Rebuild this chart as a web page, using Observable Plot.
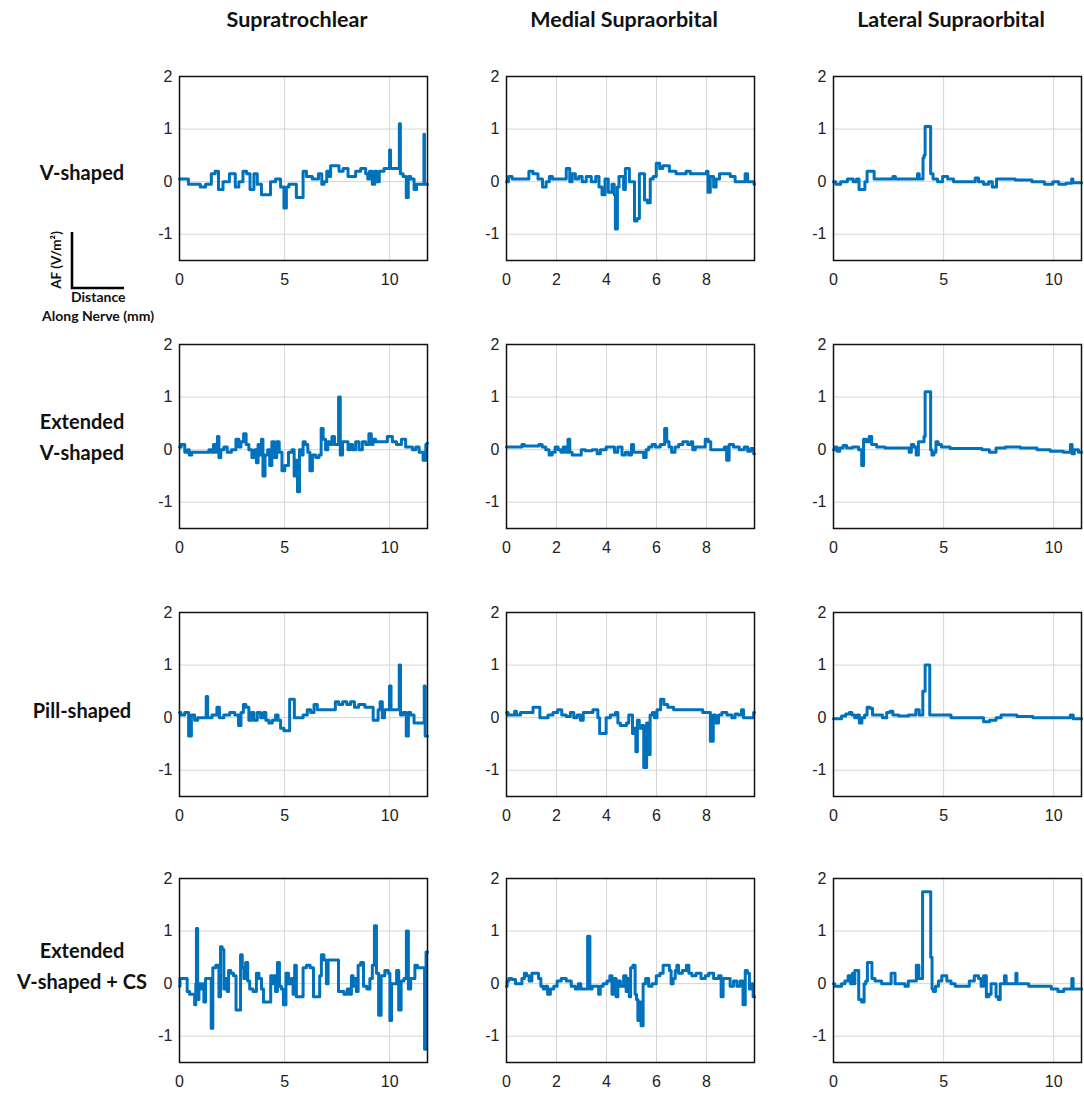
<!DOCTYPE html>
<html>
<head>
<meta charset="utf-8">
<script src="https://cdn.jsdelivr.net/npm/d3@7"></script>
<script src="https://cdn.jsdelivr.net/npm/@observablehq/plot@0.6"></script>
<style>
  html, body { margin: 0; padding: 0; background: #fff; }
  #fig { position: relative; width: 1084px; height: 1118px; background: #fff; overflow: hidden; }
  .hdr { position: absolute; font-family: Lato, "Open Sans", sans-serif; font-weight: 700; font-size: 21.5px; color: #111; text-align: center; white-space: nowrap; }
  .rowlab { position: absolute; font-family: Lato, "Open Sans", sans-serif; font-weight: 700; font-size: 20px; color: #111; text-align: center; white-space: nowrap; line-height: 31px; }
  .small { position: absolute; font-family: Lato, "Open Sans", sans-serif; font-weight: 700; font-size: 14px; color: #111; white-space: nowrap; }
  .panel { position: absolute; }
</style>
</head>
<body>
<div id="fig"></div>
<script>
// ---------- labels ----------
const columnTitles = ["Supratrochlear", "Medial Supraorbital", "Lateral Supraorbital"];
const rowTitles = [["V-shaped"], ["Extended", "V-shaped"], ["Pill-shaped"], ["Extended", "V-shaped + CS"]];
const xMax = [11.8, 9.92, 11.26];
const xTicks = [[0, 5, 10], [0, 2, 4, 6, 8], [0, 5, 10]];
const yDomain = [-1.5, 2];
const yTicks = [-1, 0, 1, 2];

// ---------- data: [distance along nerve (mm), AF (V/m^2)] ----------
const supraVShaped = [[0,0.05],[0.35,0.05],[0.5,-0.05],[0.9,-0.05],[1.08,-0.1],[1.4,-0.05],[1.63,0.15],[1.76,0.2],[1.95,-0.15],[2.19,0.0],[2.56,0.15],[2.75,-0.1],[2.9,0.0],[3.14,0.2],[3.25,0.15],[3.46,-0.15],[3.62,0.15],[3.78,-0.05],[4.02,-0.25],[4.25,-0.25],[4.41,0.0],[4.73,0.05],[4.89,-0.1],[5.05,-0.5],[5.12,-0.1],[5.29,-0.05],[5.52,-0.05],[5.6,-0.3],[5.84,-0.3],[5.92,0.2],[6.16,0.1],[6.48,0.05],[6.75,0.15],[6.79,-0.05],[6.95,0.0],[7.06,0.2],[7.16,0.1],[7.22,0.3],[7.51,0.3],[7.67,0.2],[7.9,0.25],[8.14,0.1],[8.3,0.1],[8.46,0.2],[8.78,0.25],[8.94,0.15],[8.98,0.05],[9.1,0.2],[9.25,-0.05],[9.33,0.2],[9.44,0.0],[9.57,0.2],[9.89,0.25],[9.99,0.25],[10.0,0.6],[10.03,0.6],[10.05,0.25],[10.45,0.25],[10.47,1.1],[10.5,1.1],[10.52,0.15],[10.76,0.1],[10.82,-0.3],[10.85,-0.3],[10.92,0.1],[11.08,0.05],[11.24,-0.15],[11.32,-0.05],[11.62,-0.05],[11.64,0.9],[11.67,-0.05],[11.8,-0.05]];
const medialVShaped = [[0,0.0],[0.16,0.1],[0.29,0.05],[0.83,0.05],[0.96,0.2],[1.16,0.15],[1.36,0.05],[1.52,-0.1],[1.65,0.0],[1.78,0.1],[1.89,0.05],[2.36,0.05],[2.42,0.25],[2.5,0.25],[2.56,0.0],[2.69,0.15],[2.82,0.05],[2.96,0.1],[3.09,0.0],[3.29,0.1],[3.49,0.0],[3.65,0.1],[3.75,-0.1],[3.89,-0.25],[3.99,0.05],[4.15,-0.2],[4.29,-0.05],[4.33,-0.25],[4.38,-0.9],[4.42,-0.9],[4.45,-0.1],[4.55,0.1],[4.66,0.1],[4.71,-0.15],[4.8,0.25],[4.88,0.25],[4.95,0.0],[5.09,0.0],[5.15,-0.75],[5.29,-0.7],[5.34,0.15],[5.49,0.15],[5.55,-0.35],[5.72,-0.4],[5.78,0.05],[5.95,0.1],[6.03,0.35],[6.1,0.35],[6.15,0.25],[6.35,0.3],[6.68,0.2],[6.88,0.15],[7.15,0.15],[7.22,0.2],[7.48,0.15],[7.95,0.15],[8.04,0.2],[8.08,-0.2],[8.22,0.1],[8.35,-0.1],[8.42,0.05],[8.62,0.15],[8.82,0.15],[9.08,0.1],[9.21,0.0],[9.48,0.0],[9.61,0.15],[9.68,0.0],[9.88,0.0],[9.92,-0.05]];
const lateralVShaped = [[0,0.0],[0.21,-0.05],[0.44,0.0],[0.82,0.05],[0.97,0.0],[1.12,0.05],[1.2,-0.15],[1.38,-0.15],[1.47,0.0],[1.58,0.2],[1.81,0.2],[1.88,0.05],[2.64,0.05],[2.75,0.1],[2.87,0.05],[3.78,0.05],[3.85,0.15],[3.93,0.05],[4.05,0.05],[4.08,0.45],[4.14,0.5],[4.18,1.05],[4.39,1.05],[4.43,0.15],[4.61,0.05],[4.84,0.0],[5.07,0.1],[5.3,0.05],[5.6,0.0],[6.36,0.0],[6.51,0.07],[6.66,0.0],[6.97,-0.05],[7.12,0.0],[7.3,-0.1],[7.5,0.05],[7.88,0.05],[8.63,0.03],[9.39,0.0],[9.77,-0.05],[10.15,0.0],[10.3,-0.05],[10.8,-0.03],[10.83,0.05],[10.91,-0.02],[11.26,-0.02]];

const supraExtended = [[0,0.05],[0.17,0.1],[0.33,-0.05],[0.44,0.0],[0.49,-0.1],[0.68,-0.05],[1.32,-0.05],[1.48,0.0],[1.56,-0.05],[1.67,0.1],[1.76,-0.05],[1.85,0.25],[1.9,-0.15],[2.03,0.0],[2.19,0.05],[2.35,-0.05],[2.59,0.0],[2.78,0.2],[2.87,0.05],[2.98,0.15],[3.12,0.3],[3.22,0.1],[3.38,0.0],[3.51,-0.15],[3.62,0.0],[3.7,-0.25],[3.78,0.1],[3.86,-0.1],[3.94,0.2],[4.0,-0.5],[4.14,-0.1],[4.25,0.0],[4.33,-0.3],[4.46,0.15],[4.57,-0.15],[4.68,0.15],[4.81,-0.05],[4.94,-0.4],[5.08,-0.3],[5.29,-0.05],[5.41,0.0],[5.5,-0.5],[5.57,-0.2],[5.66,-0.8],[5.76,0.0],[5.84,-0.1],[5.92,0.15],[6.05,0.1],[6.16,-0.05],[6.25,-0.4],[6.4,-0.1],[6.56,-0.15],[6.71,-0.1],[6.77,0.4],[6.9,0.2],[7.0,0.0],[7.11,0.15],[7.19,0.1],[7.32,0.25],[7.43,0.1],[7.56,0.1],[7.58,1.0],[7.62,1.0],[7.68,-0.1],[7.83,0.15],[7.98,0.15],[8.06,0.0],[8.17,0.1],[8.3,0.0],[8.46,0.15],[8.62,0.0],[8.78,0.15],[8.94,0.1],[9.08,0.3],[9.17,0.1],[9.25,0.2],[9.41,0.15],[9.73,0.15],[10.05,0.25],[10.21,0.15],[10.44,0.1],[10.68,0.2],[10.84,0.05],[11.0,0.05],[11.16,0.0],[11.32,0.05],[11.48,-0.05],[11.7,-0.2],[11.74,0.1],[11.8,0.12]];
const medialExtended = [[0,0.05],[0.56,0.05],[0.67,0.1],[0.76,0.07],[1.23,0.07],[1.36,0.1],[1.49,0.05],[1.65,0.0],[1.76,-0.1],[1.89,-0.05],[2.0,0.05],[2.13,0.0],[2.22,-0.05],[2.32,0.05],[2.42,-0.05],[2.5,0.2],[2.56,-0.05],[2.69,-0.1],[2.96,-0.1],[3.02,0.0],[3.29,-0.02],[3.56,0.0],[3.69,-0.08],[3.82,0.0],[4.15,0.05],[4.29,0.05],[4.35,-0.05],[4.55,0.05],[4.69,-0.1],[4.82,-0.05],[4.95,-0.1],[5.05,0.1],[5.11,-0.05],[5.42,-0.05],[5.55,-0.15],[5.62,0.0],[5.75,0.05],[5.89,0.1],[6.02,0.05],[6.28,0.1],[6.37,0.4],[6.45,0.15],[6.55,0.05],[6.66,-0.05],[6.82,0.05],[6.95,0.1],[7.15,0.15],[7.35,0.1],[7.42,0.15],[7.48,0.0],[7.62,0.05],[7.88,0.05],[8.02,0.2],[8.12,0.15],[8.22,0.0],[8.68,0.0],[8.75,0.05],[8.86,-0.2],[8.95,0.1],[9.21,0.05],[9.41,0.0],[9.61,0.05],[9.68,-0.03],[9.85,0.02],[9.92,-0.08]];
const lateralExtended = [[0,0.0],[0.11,0.05],[0.21,-0.03],[0.36,0.03],[0.52,0.08],[0.67,0.03],[1.05,0.05],[1.23,0.0],[1.33,-0.3],[1.4,0.2],[1.58,0.15],[1.66,0.25],[1.81,0.1],[2.11,0.05],[2.56,0.03],[3.4,0.03],[3.47,-0.05],[3.6,0.1],[3.7,0.05],[3.81,-0.1],[3.9,0.15],[4.08,0.15],[4.14,0.25],[4.18,1.1],[4.39,1.1],[4.43,0.0],[4.51,-0.1],[4.61,-0.05],[4.69,0.15],[4.81,0.1],[4.99,0.05],[5.6,0.02],[6.51,0.02],[6.97,0.0],[7.19,-0.05],[7.57,0.03],[8.03,0.05],[8.94,0.03],[9.54,0.0],[10.15,-0.03],[10.73,-0.05],[10.79,0.1],[10.88,-0.08],[10.99,0.0],[11.26,-0.05]];

const supraPill = [[0,0.1],[0.13,0.05],[0.37,0.1],[0.5,-0.35],[0.63,0.05],[0.81,-0.05],[0.92,0.0],[1.24,0.0],[1.3,0.4],[1.38,0.0],[1.71,0.05],[1.85,0.2],[1.95,0.0],[2.27,0.05],[2.51,0.1],[2.75,0.05],[2.87,-0.15],[2.98,0.1],[3.1,0.25],[3.22,0.2],[3.38,-0.05],[3.46,0.1],[3.62,-0.05],[3.78,0.1],[3.94,0.0],[4.05,0.1],[4.17,-0.05],[4.33,-0.1],[4.49,-0.05],[4.65,0.05],[4.73,-0.05],[4.89,-0.2],[5.05,-0.25],[5.21,-0.25],[5.27,0.35],[5.41,0.35],[5.52,0.0],[5.76,0.0],[6.0,0.05],[6.16,0.15],[6.32,0.1],[6.48,0.25],[6.63,0.15],[7.35,0.15],[7.48,0.3],[7.67,0.25],[7.86,0.3],[8.06,0.25],[8.22,0.3],[8.43,0.2],[8.62,0.25],[9.02,0.2],[9.41,-0.05],[9.49,0.15],[9.6,0.3],[9.7,0.0],[9.81,0.15],[9.97,0.15],[10.01,0.6],[10.05,0.6],[10.08,0.15],[10.44,0.15],[10.47,1.0],[10.5,1.0],[10.53,0.05],[10.76,0.1],[10.82,-0.35],[10.86,-0.35],[10.92,0.1],[11.08,0.05],[11.24,-0.1],[11.63,-0.1],[11.66,0.6],[11.72,-0.35],[11.8,-0.35]];
const medialPill = [[0,0.1],[0.13,0.05],[0.29,0.05],[0.36,0.12],[0.43,0.05],[0.69,0.1],[0.96,0.1],[1.16,0.2],[1.29,0.2],[1.38,0.0],[1.56,0.0],[1.76,0.05],[1.96,0.1],[2.13,0.15],[2.29,0.05],[2.49,0.02],[2.62,0.1],[2.76,0.0],[2.89,0.05],[3.02,-0.05],[3.12,0.1],[3.29,0.1],[3.62,0.15],[3.69,0.0],[3.76,-0.3],[3.95,-0.3],[4.02,0.0],[4.29,0.05],[4.42,0.1],[4.49,-0.1],[4.62,-0.15],[4.75,-0.15],[4.85,-0.1],[4.93,0.05],[5.02,0.05],[5.06,-0.3],[5.15,-0.2],[5.2,-0.65],[5.27,-0.05],[5.35,-0.2],[5.46,-0.15],[5.52,-0.95],[5.58,-0.95],[5.63,-0.1],[5.71,-0.7],[5.78,0.05],[5.89,0.1],[5.95,0.0],[6.09,0.15],[6.24,0.35],[6.35,0.25],[6.55,0.2],[6.82,0.15],[7.35,0.15],[7.75,0.15],[7.95,0.1],[8.08,0.1],[8.23,-0.45],[8.31,0.05],[8.41,-0.1],[8.55,0.05],[8.68,0.1],[8.95,0.05],[9.08,0.0],[9.21,0.07],[9.35,0.05],[9.45,0.15],[9.51,0.0],[9.85,0.0],[9.92,0.1]];
const lateralPill = [[0,-0.02],[0.29,-0.02],[0.44,0.03],[0.67,0.07],[0.77,0.1],[0.9,0.05],[1.02,0.0],[1.12,0.05],[1.23,-0.1],[1.35,0.0],[1.47,0.05],[1.58,0.2],[1.73,0.18],[1.81,0.05],[2.11,0.05],[2.34,0.0],[2.49,0.1],[2.64,0.12],[2.75,0.05],[3.17,0.03],[3.63,0.05],[3.85,0.15],[3.93,0.05],[4.03,0.05],[4.08,0.5],[4.14,0.5],[4.18,1.0],[4.34,1.0],[4.4,0.05],[4.69,0.05],[5.07,0.05],[5.6,0.0],[6.66,0.0],[6.97,-0.08],[7.19,-0.05],[7.57,0.0],[7.65,0.05],[8.18,0.05],[8.48,0.02],[8.94,0.02],[9.17,0.0],[10.15,0.0],[10.68,0.0],[10.83,0.05],[10.94,-0.02],[11.26,-0.02]];

const supraExtendedCS = [[0,-0.05],[0.05,0.1],[0.29,0.1],[0.44,-0.15],[0.52,-0.2],[0.68,-0.2],[0.76,-0.4],[0.79,0.0],[0.82,1.05],[0.85,1.05],[0.88,-0.3],[0.97,0.0],[1.03,-0.1],[1.13,0.0],[1.19,-0.35],[1.29,0.1],[1.48,0.1],[1.54,-0.85],[1.63,0.3],[1.83,0.35],[1.92,-0.25],[1.98,0.7],[2.08,0.65],[2.14,-0.1],[2.24,0.1],[2.3,-0.15],[2.37,0.25],[2.51,0.2],[2.63,0.15],[2.75,-0.5],[2.87,-0.5],[2.94,0.55],[3.03,0.3],[3.1,0.1],[3.19,0.4],[3.3,0.05],[3.38,-0.1],[3.62,-0.15],[3.7,0.2],[3.86,0.1],[3.94,-0.1],[4.05,-0.35],[4.3,-0.35],[4.38,0.15],[4.46,0.0],[4.52,0.15],[4.62,-0.15],[4.7,0.4],[4.81,-0.05],[4.89,-0.1],[5.0,-0.4],[5.13,0.2],[5.25,0.0],[5.37,0.1],[5.44,-0.2],[5.52,0.35],[5.6,-0.25],[5.84,-0.25],[5.92,0.3],[6.16,0.35],[6.27,0.3],[6.48,-0.25],[6.63,-0.25],[6.71,0.15],[6.79,0.55],[6.95,0.45],[7.03,0.0],[7.11,0.45],[7.51,0.45],[7.62,-0.15],[7.75,-0.15],[7.9,-0.2],[8.06,-0.1],[8.14,-0.2],[8.22,0.15],[8.3,-0.05],[8.38,0.1],[8.46,-0.15],[8.54,0.35],[8.7,0.4],[8.81,-0.05],[9.02,-0.1],[9.1,0.1],[9.25,0.35],[9.3,1.1],[9.33,1.1],[9.41,0.2],[9.54,-0.6],[9.65,0.15],[9.89,0.25],[9.97,0.2],[10.05,-0.7],[10.13,0.0],[10.29,0.0],[10.37,0.25],[10.49,-0.5],[10.6,0.05],[10.76,0.1],[10.83,1.0],[10.86,1.0],[10.92,-0.1],[11.08,0.1],[11.16,0.1],[11.24,0.35],[11.4,0.3],[11.63,0.3],[11.69,-1.25],[11.72,-1.25],[11.74,0.6],[11.8,0.6]];
const medialExtendedCS = [[0,-0.05],[0.05,0.05],[0.13,0.1],[0.29,0.08],[0.43,0.0],[0.56,0.0],[0.67,0.1],[0.76,0.2],[0.85,0.15],[0.96,0.05],[1.07,0.2],[1.23,0.2],[1.33,0.1],[1.42,-0.05],[1.52,-0.1],[1.6,-0.05],[1.69,-0.2],[1.82,-0.1],[1.96,-0.05],[2.09,0.05],[2.29,0.1],[2.49,0.05],[2.69,-0.05],[2.82,-0.1],[2.93,0.0],[3.02,-0.1],[3.22,-0.1],[3.27,0.9],[3.31,0.9],[3.36,-0.1],[3.49,-0.05],[3.65,-0.05],[3.72,-0.2],[3.78,-0.05],[3.95,0.0],[4.09,0.05],[4.18,0.15],[4.26,-0.2],[4.35,0.1],[4.42,-0.25],[4.49,0.05],[4.62,-0.05],[4.75,0.15],[4.82,-0.15],[4.89,0.1],[4.93,-0.25],[5.0,0.3],[5.11,0.35],[5.18,-0.2],[5.22,-0.3],[5.29,-0.7],[5.35,-0.35],[5.42,-0.8],[5.51,0.0],[5.62,0.1],[5.75,-0.05],[5.89,0.0],[6.09,0.15],[6.18,0.2],[6.35,0.35],[6.48,0.35],[6.55,0.25],[6.62,0.0],[6.71,0.1],[6.79,0.25],[6.84,0.35],[6.92,0.2],[7.15,0.25],[7.24,0.35],[7.35,0.2],[7.48,0.15],[7.68,0.2],[7.88,0.1],[8.02,0.15],[8.15,0.2],[8.42,0.1],[8.55,0.15],[8.62,-0.25],[8.71,0.1],[8.88,0.1],[9.01,-0.05],[9.15,0.05],[9.28,-0.05],[9.41,0.05],[9.51,-0.4],[9.59,0.25],[9.68,0.2],[9.75,-0.1],[9.81,0.0],[9.92,-0.25]];
const lateralExtendedCS = [[0,0.0],[0.11,-0.05],[0.29,-0.05],[0.44,0.0],[0.59,0.05],[0.74,0.15],[0.82,0.0],[0.9,0.2],[0.94,0.0],[1.0,0.25],[1.09,0.25],[1.2,-0.3],[1.35,-0.35],[1.43,0.0],[1.5,0.05],[1.58,0.4],[1.68,0.4],[1.81,0.1],[1.96,0.05],[2.41,0.0],[2.56,0.0],[2.67,0.2],[2.75,0.2],[2.84,0.0],[3.17,0.0],[3.32,-0.05],[3.47,0.05],[3.7,0.05],[3.82,0.35],[3.93,0.1],[4.03,0.1],[4.06,1.75],[4.39,1.75],[4.44,0.5],[4.51,-0.1],[4.57,-0.15],[4.69,-0.05],[4.84,0.05],[4.99,0.15],[5.07,0.15],[5.22,0.05],[5.45,0.0],[5.6,-0.05],[6.05,-0.05],[6.28,0.05],[6.51,0.15],[6.66,0.1],[6.74,-0.05],[6.89,0.15],[6.99,-0.25],[7.12,-0.2],[7.19,0.0],[7.34,0.0],[7.42,-0.25],[7.54,-0.3],[7.6,0.0],[7.72,0.0],[7.8,0.15],[7.88,0.0],[8.26,0.0],[8.3,0.2],[8.36,0.0],[8.79,0.0],[8.94,-0.05],[9.7,-0.05],[10.08,-0.1],[10.3,-0.15],[10.61,-0.1],[10.79,-0.1],[10.85,0.1],[10.91,-0.1],[11.26,-0.1]];

const series = [
  [supraVShaped, medialVShaped, lateralVShaped],
  [supraExtended, medialExtended, lateralExtended],
  [supraPill, medialPill, lateralPill],
  [supraExtendedCS, medialExtendedCS, lateralExtendedCS]
];

// ---------- layout ----------
const fig = document.getElementById("fig");
const frameLeft = [179, 506, 833];
const frameTop = [76, 344, 612, 878];
const FW = 248, FH = 184;
const ML = 40, MR = 3, MT = 8, MB = 34;

columnTitles.forEach((t, c) => {
  const d = document.createElement("div");
  d.className = "hdr";
  d.textContent = t;
  d.style.left = (frameLeft[c] + FW / 2 - 6 - 150) + "px";
  d.style.width = "300px";
  d.style.top = "6px";
  fig.appendChild(d);
});

const rowCenters = [172, 437, 710, 966];
rowTitles.forEach((lines, r) => {
  const d = document.createElement("div");
  d.className = "rowlab";
  d.innerHTML = lines.join("<br>");
  d.style.left = "0px";
  d.style.width = "164px";
  d.style.top = (rowCenters[r] - lines.length * 31 / 2) + "px";
  fig.appendChild(d);
});

// scale-bar annotation
const sb = document.createElementNS("http://www.w3.org/2000/svg", "svg");
sb.setAttribute("width", 170); sb.setAttribute("height", 110);
sb.style.position = "absolute"; sb.style.left = "0px"; sb.style.top = "222px";
sb.innerHTML = '<path d="M72,10 V66 H124" fill="none" stroke="#000" stroke-width="2.5"/>' +
  '<text transform="translate(61,38) rotate(-90)" text-anchor="middle" font-family="Lato, Open Sans, sans-serif" font-weight="700" font-size="13.5" fill="#111">AF (V/m²)</text>';
fig.appendChild(sb);
const t1 = document.createElement("div");
t1.className = "small"; t1.textContent = "Distance"; t1.style.left = "71px"; t1.style.top = "288px";
fig.appendChild(t1);
const t2 = document.createElement("div");
t2.className = "small"; t2.textContent = "Along Nerve (mm)"; t2.style.left = "42px"; t2.style.top = "307px";
fig.appendChild(t2);

// ---------- panels ----------
for (let r = 0; r < 4; r++) {
  for (let c = 0; c < 3; c++) {
    const p = Plot.plot({
      width: ML + FW + MR,
      height: MT + FH + MB,
      marginLeft: ML, marginRight: MR, marginTop: MT, marginBottom: MB,
      style: { fontFamily: "'Liberation Sans', Arial, sans-serif", fontSize: "16px", color: "#222", background: "transparent", overflow: "visible" },
      x: { domain: [0, xMax[c]], ticks: xTicks[c], tickSize: 0, tickPadding: 13, tickFormat: d => String(d), label: null },
      y: { domain: yDomain, ticks: yTicks, tickSize: 0, tickPadding: 7, tickFormat: d => String(d), label: null },
      marks: [
        Plot.gridX(xTicks[c], { stroke: "#d6d6d6", strokeOpacity: 1, strokeWidth: 1 }),
        Plot.gridY(yTicks, { stroke: "#d6d6d6", strokeOpacity: 1, strokeWidth: 1 }),
        Plot.line(series[r][c], { x: d => d[0], y: d => d[1], curve: "step", stroke: "#0072BD", strokeWidth: 3 }),
        Plot.frame({ stroke: "#111", strokeWidth: 1.5 })
      ]
    });
    const holder = document.createElement("div");
    holder.className = "panel";
    holder.style.left = (frameLeft[c] - ML) + "px";
    holder.style.top = (frameTop[r] - MT) + "px";
    holder.appendChild(p);
    fig.appendChild(holder);
  }
}
</script>
</body>
</html>
